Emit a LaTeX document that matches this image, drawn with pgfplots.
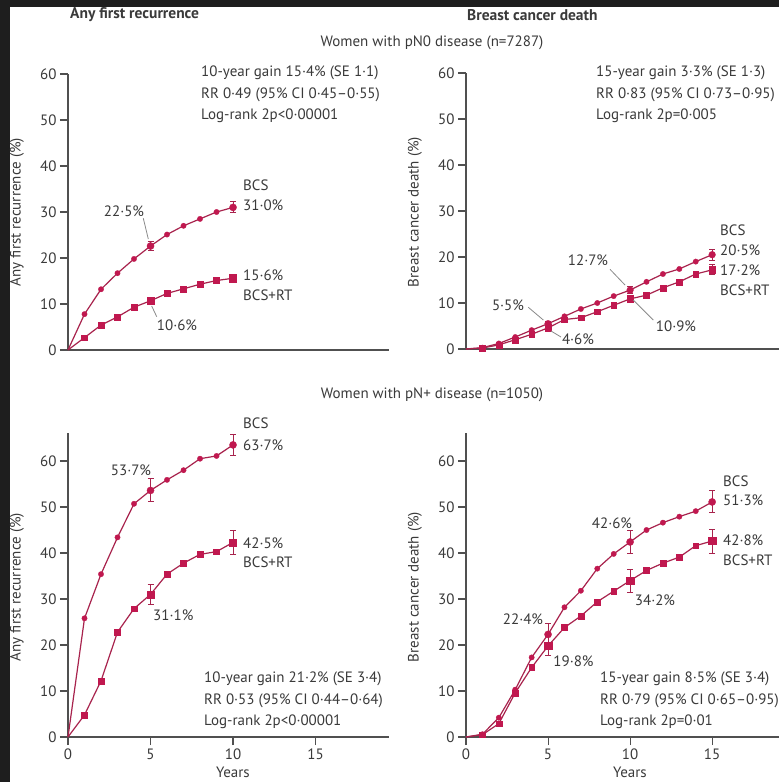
\documentclass[border=0pt]{standalone}
\usepackage{fontspec}
\setmainfont{PT Sans}
\usepackage{pgfplots}
\usepackage{pgfplotstable}
\pgfplotsset{compat=1.18}
\definecolor{crim}{HTML}{C0184F}
\definecolor{crimline}{HTML}{A8234D}
\definecolor{txt}{HTML}{3A3A3A}
\definecolor{axc}{HTML}{505050}
\definecolor{lead}{HTML}{8A8A8A}
\definecolor{frame}{HTML}{1E1E1E}
\newcommand\fs{\fontsize{15}{17}\selectfont}
\newcommand\fst{\fontsize{15.5}{17}\selectfont}

\pgfplotstableread{
x y
0 0
1 7.8
2 13.2
3 16.7
4 19.8
5 22.6
6 25.1
7 27.0
8 28.5
9 30.0
10 31.0
}\tlbcs
\pgfplotstableread{
x y
0 0
1 2.7
2 5.4
3 7.2
4 9.3
5 10.7
6 12.3
7 13.3
8 14.3
9 15.1
10 15.6
}\tlrt
\pgfplotstableread{
x y
0 0
1 0.3
2 1.2
3 2.6
4 4.1
5 5.5
6 7.1
7 8.7
8 10.0
9 11.5
10 12.8
11 14.6
12 16.3
13 17.4
14 19.0
15 20.5
}\trbcs
\pgfplotstableread{
x y
0 0
1 0.2
2 0.9
3 2.0
4 3.2
5 4.6
6 6.4
7 6.8
8 8.1
9 9.5
10 10.9
11 11.7
12 13.3
13 14.6
14 16.3
15 17.2
}\trrt
\pgfplotstableread{
x y
0 0
1 25.8
2 35.4
3 43.4
4 50.7
5 53.6
6 55.9
7 58.0
8 60.5
9 61.1
10 63.5
}\blbcs
\pgfplotstableread{
x y
0 0
1 4.8
2 12.2
3 22.8
4 27.9
5 31.0
6 35.4
7 37.8
8 39.7
9 40.3
10 42.3
}\blrt
\pgfplotstableread{
x y
0 0
1 0.6
2 4.2
3 10.3
4 17.3
5 22.3
6 28.2
7 31.8
8 36.6
9 39.8
10 42.4
11 45.0
12 46.6
13 47.9
14 49.1
15 51.1
}\brbcs
\pgfplotstableread{
x y
0 0
1 0.5
2 2.9
3 9.6
4 15.1
5 19.8
6 23.8
7 26.3
8 29.4
9 31.7
10 34.0
11 36.2
12 37.8
13 39.1
14 41.6
15 42.6
}\brrt

\pgfplotsset{
  panel/.style={
    scale only axis, enlargelimits=false, clip=false,
    axis x line=bottom, axis y line=left,
    axis line style={-, axc, line width=1.2pt},
    tick style={axc, line width=1.1pt}, tick align=outside,
    major tick length=8pt,
    xmin=0, ymin=0,
    ytick={0,10,...,60},
    ticklabel style={font=\fs, text=txt},
    /pgf/number format/assume math mode=true,
    anchor=south west,
  },
  curve/.style={crimline, line width=1.2pt, no marks},
  bcsm/.style={only marks, mark=*, mark size=2.7pt, mark options={fill=crim, draw=crim, line width=0.3pt}},
  rtm/.style={only marks, mark=square*, mark size=2.9pt, mark options={fill=crim, draw=crim, line width=0.3pt}},
  ebar/.style={error bars/.cd, y dir=both, y explicit,
    error bar style={crimline, line width=1pt},
    error mark options={rotate=90, crimline, mark size=3pt, line width=1pt}},
}

\begin{document}
\begin{tikzpicture}[x=1pt,y=1pt]
\path[use as bounding box] (0,0) rectangle (779,782);
\fill[white] (0,0) rectangle (779,782);

% ---------- top left ----------
\begin{axis}[panel, at={(68pt,432pt)}, width=321pt, height=276pt,
  xmax=19.45, ymax=60, xtick=\empty]
\addplot[curve] table {\tlbcs};
\addplot[curve] table {\tlrt};
\addplot[bcsm, skip coords between index={0}{1}] table {\tlbcs};
\addplot[rtm, skip coords between index={0}{1}] table {\tlrt};
\addplot[bcsm, mark size=3.6pt, ebar] coordinates {(5,22.6) +- (0,0.9) (10,31.0) +- (0,1.2)};
\addplot[rtm, mark size=3.6pt, ebar] coordinates {(5,10.7) +- (0,0.6) (10,15.6) +- (0,0.9)};
\end{axis}

% ---------- top right ----------
\begin{axis}[panel, at={(466pt,433pt)}, width=320pt, height=276pt,
  xmax=19.5, ymax=60, xtick=\empty]
\addplot[curve] table {\trbcs};
\addplot[curve] table {\trrt};
\addplot[bcsm, skip coords between index={0}{1}] table {\trbcs};
\addplot[rtm, skip coords between index={0}{1}] table {\trrt};
\addplot[bcsm, mark size=3.4pt, ebar] coordinates {(5,5.5) +- (0,0.5) (10,12.8) +- (0,0.8) (15,20.5) +- (0,1.2)};
\addplot[rtm, mark size=3.4pt, ebar] coordinates {(5,4.6) +- (0,0.5) (10,10.9) +- (0,0.7) (15,17.2) +- (0,1.1)};
\end{axis}

% ---------- bottom left ----------
\begin{axis}[panel, at={(68pt,45pt)}, width=321pt, height=303.6pt,
  xmax=19.45, ymax=66, xtick={0,5,10,15}]
\addplot[curve] table {\blbcs};
\addplot[curve] table {\blrt};
\addplot[bcsm, skip coords between index={0}{1}] table {\blbcs};
\addplot[rtm, skip coords between index={0}{1}] table {\blrt};
\addplot[bcsm, mark size=3.6pt, ebar] coordinates {(5,53.6) +- (0,2.5) (10,63.5) +- (0,2.3)};
\addplot[rtm, mark size=3.6pt, ebar] coordinates {(5,31.0) +- (0,2.2) (10,42.3) +- (0,2.6)};
\end{axis}

% ---------- bottom right ----------
\begin{axis}[panel, at={(466pt,45pt)}, width=320pt, height=303.6pt,
  xmax=19.5, ymax=66, xtick={0,5,10,15}]
\addplot[curve] table {\brbcs};
\addplot[curve] table {\brrt};
\addplot[bcsm, skip coords between index={0}{1}] table {\brbcs};
\addplot[rtm, skip coords between index={0}{1}] table {\brrt};
\addplot[bcsm, mark size=3.6pt, ebar] coordinates {(5,22.3) +- (0,2.3) (10,42.4) +- (0,2.4) (15,51.1) +- (0,2.4)};
\addplot[rtm, mark size=3.6pt, ebar] coordinates {(5,19.8) +- (0,2.0) (10,34.0) +- (0,2.5) (15,42.6) +- (0,2.6)};
\end{axis}

% ---------- frame ----------
\fill[frame] (0,775) rectangle (779,782);
\fill[frame] (0,0) rectangle (10,782);

% ---------- headings ----------
\begin{scope}[every node/.style={font=\fs, text=txt, inner sep=0pt}]
\node[anchor=west, font=\fst\bfseries] at (70,767) {Any first recurrence};
\node[anchor=west, font=\fst\bfseries] at (467,767) {Breast cancer death};
\node at (432,739) {Women with pN0 disease (n=7287)};
\node at (432,387) {Women with pN+ disease (n=1050)};

% y labels
\node[rotate=90] at (17,570) {Any first recurrence (\%)};
\node[rotate=90] at (415,570) {Breast cancer death (\%)};
\node[rotate=90] at (17,195) {Any first recurrence (\%)};
\node[rotate=90] at (415,195) {Breast cancer death (\%)};
\node[anchor=base] at (233,5) {Years};
\node[anchor=base] at (630,5) {Years};

% stats
\node[anchor=west] at (201,709) {10-year gain 15·4\% (SE 1·1)};
\node[anchor=west] at (201,687.5) {RR 0·49 (95\% CI 0·45–0·55)};
\node[anchor=west] at (201,666) {Log-rank 2p<0·00001};
\node[anchor=west] at (596,709) {15-year gain 3·3\% (SE 1·3)};
\node[anchor=west] at (596,687.5) {RR 0·83 (95\% CI 0·73–0·95)};
\node[anchor=west] at (596,666) {Log-rank 2p=0·005};
\node[anchor=west] at (204,103) {10-year gain 21·2\% (SE 3·4)};
\node[anchor=west] at (204,81.5) {RR 0·53 (95\% CI 0·44–0·64)};
\node[anchor=west] at (204,60) {Log-rank 2p<0·00001};
\node[anchor=west] at (600,103) {15-year gain 8·5\% (SE 3·4)};
\node[anchor=west] at (600,81.5) {RR 0·79 (95\% CI 0·65–0·95)};
\node[anchor=west] at (600,60) {Log-rank 2p=0·01};

% curve labels top left
\node[anchor=west] at (243,597) {BCS};
\node[anchor=west] at (243,577) {31·0\%};
\node[anchor=west] at (243,507) {15·6\%};
\node[anchor=west] at (243,487) {BCS+RT};
\node at (124,571) {22·5\%};
\node at (177,456.7) {10·6\%};
% top right
\node[anchor=west] at (720,552) {BCS};
\node[anchor=west] at (720,531.3) {20·5\%};
\node[anchor=west] at (720,512) {17·2\%};
\node[anchor=west] at (720,492) {BCS+RT};
\node at (588,522) {12·7\%};
\node at (676,456) {10·9\%};
\node at (508,477) {5·5\%};
\node at (578,443) {4·6\%};
% bottom left
\node[anchor=west] at (243,359) {BCS};
\node[anchor=west] at (243,337) {63·7\%};
\node[anchor=west] at (243,238.7) {42·5\%};
\node[anchor=west] at (243,219.3) {BCS+RT};
\node at (131,311.3) {53·7\%};
\node at (173.3,167) {31·1\%};
% bottom right
\node[anchor=west] at (723,301) {BCS};
\node[anchor=west] at (723,281.3) {51·3\%};
\node[anchor=west] at (723,242) {42·8\%};
\node[anchor=west] at (723,222) {BCS+RT};
\node at (612,259) {42·6\%};
\node at (655,182) {34·2\%};
\node at (523,163) {22·4\%};
\node at (573.5,121) {19·8\%};
\end{scope}

% leader lines
\begin{scope}[lead, line width=0.8pt]
\draw (143.3,563.7) -- (148.3,543);
\draw (151.7,476) -- (156.7,465.3);
\draw (610,512.7) -- (625,497);
\draw (633.3,482) -- (653.3,462);
\draw (528.3,474.7) -- (543.3,462);
\draw (551,451) -- (561,445);
\end{scope}
\end{tikzpicture}
\end{document}
